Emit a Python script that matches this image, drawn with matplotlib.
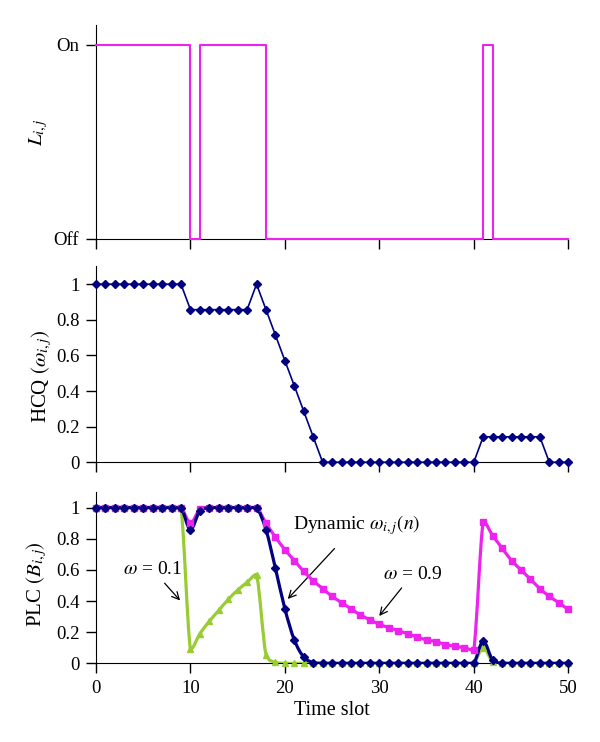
import matplotlib
matplotlib.use("Agg")
import matplotlib.pyplot as plt
from matplotlib.path import Path
from matplotlib.patches import PathPatch

plt.rcParams['font.family'] = ['Liberation Serif', 'DejaVu Serif']
plt.rcParams['mathtext.fontset'] = 'stix'
plt.rcParams['font.size'] = 14

# time slots
slots = list(range(51))

# link state L_ij (1 = On, 0 = Off), step drawn from each slot to the next
link_state = ([1] * 10 + [0] + [1] * 7 + [0] * 23 + [1] + [0] * 9)

# HCQ (omega_ij)
hcq = ([1.0] * 10
       + [0.857] * 7
       + [1.0, 0.857, 0.714, 0.571, 0.429, 0.286, 0.143]
       + [0.0] * 17
       + [0.143] * 7
       + [0.0] * 3)

# PLC (B_ij) for the three weightings
plc_dynamic = ([1.0] * 10
               + [0.857, 0.98, 1.0, 1.0, 1.0, 1.0, 1.0, 1.0,
                  0.857, 0.61, 0.35, 0.15, 0.04, 0.005]
               + [0.0] * 17
               + [0.143, 0.02]
               + [0.0] * 8)
plc_w01 = ([1.0] * 10
           + [0.09, 0.19, 0.27, 0.34, 0.41, 0.47, 0.52, 0.57,
              0.055, 0.006, 0.0, 0.0, 0.0, 0.0]
           + [0.0] * 17
           + [0.1, 0.01]
           + [0.0] * 8)
plc_w09 = ([1.0] * 10
           + [0.9, 0.99, 1.0, 1.0, 1.0, 1.0, 1.0, 1.0,
              0.9, 0.81, 0.73, 0.66, 0.59, 0.53, 0.48, 0.43, 0.39, 0.35,
              0.31, 0.28, 0.25, 0.23, 0.21, 0.19, 0.17, 0.15, 0.14, 0.12,
              0.11, 0.10, 0.085,
              0.91, 0.82, 0.74, 0.66, 0.60, 0.54, 0.48, 0.43, 0.39, 0.35])

x_ticks = [0, 10, 20, 30, 40, 50]
y_ticks = [0, 0.2, 0.4, 0.6, 0.8, 1]
y_tick_labels = ['0', '0.2', '0.4', '0.6', '0.8', '1']

MAGENTA = '#EE22EE'
NAVY = '#000080'
GREEN = '#99CC33'


def smooth_path(x, y):
    # gently smoothed curve through the points, control points kept
    # inside each segment's range so there is no overshoot
    n = len(x)
    verts = [(x[0], y[0])]
    codes = [Path.MOVETO]
    for i in range(n - 1):
        p0 = i - 1 if i > 0 else i
        p3 = i + 2 if i + 2 < n else i + 1
        lo, hi = min(y[i], y[i + 1]), max(y[i], y[i + 1])
        c1y = min(max(y[i] + (y[i + 1] - y[p0]) / 6, lo), hi)
        c2y = min(max(y[i + 1] - (y[p3] - y[i]) / 6, lo), hi)
        verts += [(x[i] + 1 / 3, c1y), (x[i + 1] - 1 / 3, c2y),
                  (x[i + 1], y[i + 1])]
        codes += [Path.CURVE4] * 3
    return Path(verts, codes)


def style_axes(ax):
    ax.spines['top'].set_visible(False)
    ax.spines['right'].set_visible(False)
    ax.set_xlim(0, 50)
    ax.set_ylim(0, 1.1)
    ax.set_xticks(x_ticks)
    ax.tick_params(direction='out', length=7, width=1, pad=5,
                   labelsize=13.5)


fig = plt.figure(figsize=(6, 7.42), dpi=100)
left, width = 0.16, 0.787
ax1 = fig.add_axes([left, 0.678, width, 0.288])
ax2 = fig.add_axes([left, 0.377, width, 0.264])
ax3 = fig.add_axes([left, 0.106, width, 0.231])

# ---- top: link state ----
style_axes(ax1)
ax1.step(slots, link_state, where='post', color=MAGENTA, lw=1.5,
         zorder=5, clip_on=False)
ax1.set_yticks([0, 1])
ax1.set_yticklabels(['Off', 'On'])
ax1.set_xticklabels([])
ax1.set_ylabel(r'$L_{i,j}$', fontsize=15)
ax1.yaxis.set_label_coords(-0.097, 0.5)

# ---- middle: HCQ ----
style_axes(ax2)
ax2.plot(slots, hcq, color=NAVY, lw=1.2, marker='D', markersize=4.5,
         zorder=5, clip_on=False)
ax2.set_yticks(y_ticks)
ax2.set_yticklabels(y_tick_labels)
ax2.set_xticklabels([])
ax2.set_ylabel(r'HCQ $(\omega_{i,j})$', fontsize=15)
ax2.yaxis.set_label_coords(-0.09, 0.44)

# ---- bottom: PLC ----
style_axes(ax3)
for series, color, mk in [(plc_w01, GREEN, '^'),
                          (plc_w09, MAGENTA, 's'),
                          (plc_dynamic, NAVY, 'D')]:
    patch = PathPatch(smooth_path(slots, series), fill=False,
                      edgecolor=color, lw=2.3, zorder=4)
    ax3.add_patch(patch)
    ax3.plot(slots, series, ls='none', marker=mk, markersize=4,
             color=color, zorder=5, clip_on=False)
ax3.set_yticks(y_ticks)
ax3.set_yticklabels(y_tick_labels)
ax3.set_ylabel(r'PLC $(B_{i,j})$', fontsize=15)
ax3.yaxis.set_label_coords(-0.10, 0.46)
ax3.set_xlabel('Time slot', fontsize=14.5, labelpad=3)

arrow = dict(arrowstyle='->', color='black', lw=0.9, mutation_scale=13)
ax3.annotate(r'$\omega$ = 0.1', xy=(9.1, 0.39), xytext=(6.0, 0.6),
             ha='center', va='center', fontsize=14, arrowprops=arrow)
ax3.annotate(r'Dynamic $\omega_{i,j}(n)$', xy=(20.1, 0.40),
             xytext=(27.6, 0.89), ha='center', va='center', fontsize=14,
             arrowprops=dict(arrow, shrinkA=9))
ax3.annotate(r'$\omega$ = 0.9', xy=(29.8, 0.29), xytext=(33.5, 0.57),
             ha='center', va='center', fontsize=14, arrowprops=arrow)

fig.savefig('out.png', dpi=100)
